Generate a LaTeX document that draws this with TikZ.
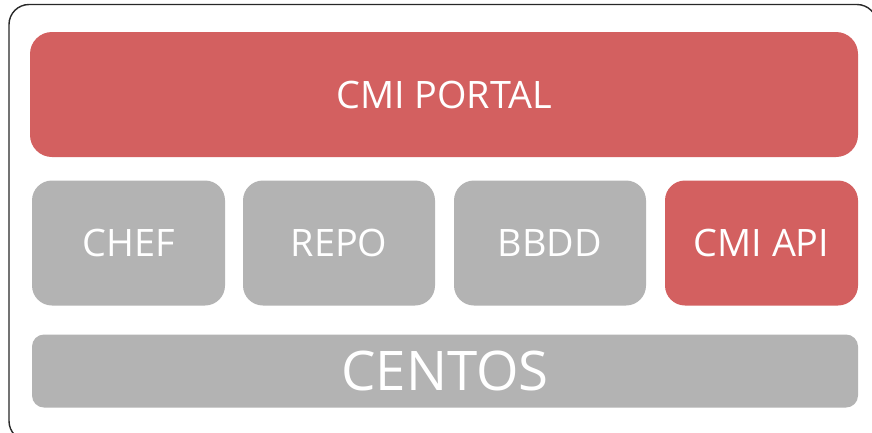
\documentclass[tikz,border=0pt]{standalone}
\usepackage{fontspec}
\setmainfont{Open Sans}
\definecolor{cmired}{RGB}{211,96,96}
\definecolor{cmigray}{RGB}{179,179,179}
\definecolor{frame}{RGB}{40,40,40}
\tikzset{
  layer/.style={draw=none, rounded corners=20pt, inner sep=0pt, outer sep=0pt,
    text=white, font=\fontsize{37.8pt}{40pt}\selectfont, text height=27pt, text depth=0pt},
  redlayer/.style={layer, fill=cmired},
  graylayer/.style={layer, fill=cmigray},
}
\begin{document}
\begin{tikzpicture}[x=1pt,y=-1pt]
\useasboundingbox (0,0) rectangle (872,432);
\fill[white] (0,0) rectangle (872,432);
\begin{scope}
\clip (0,0) rectangle (872,432);
\draw[frame, line width=1.4pt, rounded corners=20pt] (9,4.5) rectangle (877,441);
\end{scope}
\node[redlayer, minimum width=828pt, minimum height=125pt, rounded corners=22pt] (portal) at (444,94.5) {CMI PORTAL};
\node[graylayer, minimum width=193pt, minimum height=125pt] (chef) at (128.5,243) {CHEF};
\node[graylayer, minimum width=192pt, minimum height=125pt] (repo) at (339,243) {REPO};
\node[graylayer, minimum width=192pt, minimum height=125pt] (bbdd) at (550,243) {BBDD};
\node[redlayer, minimum width=193pt, minimum height=125pt] (api) at (761.5,243) {CMI API};
\node[graylayer, minimum width=826pt, minimum height=73pt, rounded corners=12pt,
  font=\fontsize{54.6pt}{56pt}\selectfont, text height=39pt] (centos) at (445,371) {CENTOS};
\end{tikzpicture}
\end{document}
